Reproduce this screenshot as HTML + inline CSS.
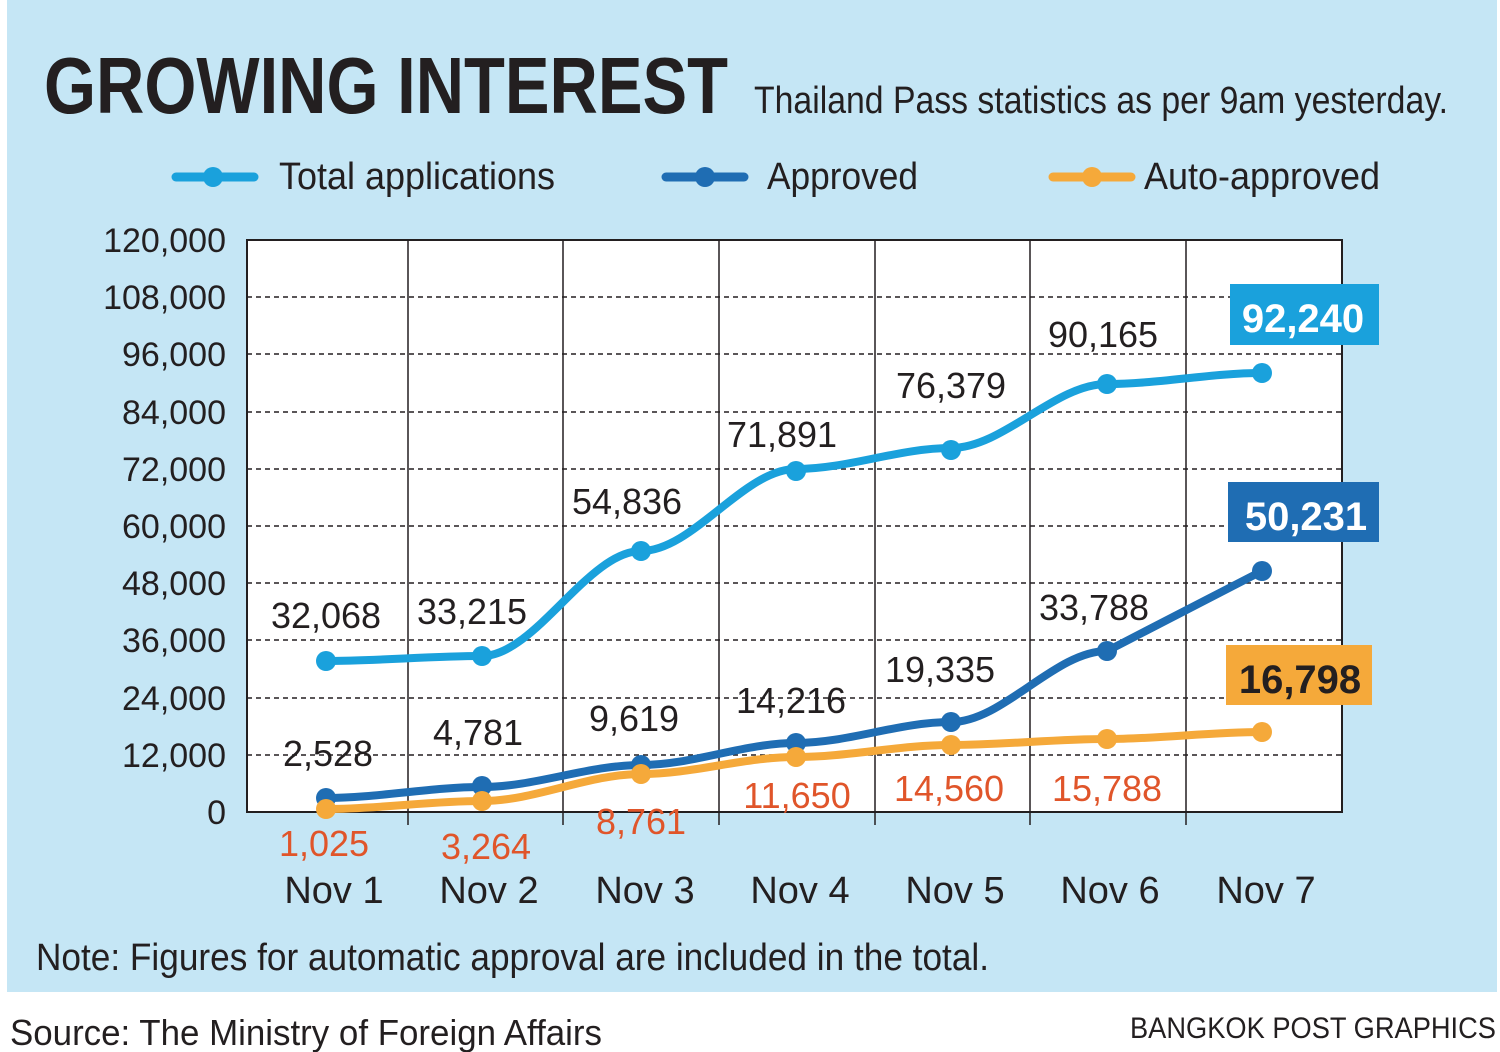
<!DOCTYPE html>
<html><head><meta charset="utf-8"><style>
html,body{margin:0;padding:0;background:#fff;}
svg{display:block;}
text{font-family:"Liberation Sans Narrow","Liberation Sans",sans-serif;}
</style></head><body>
<svg width="1500" height="1052" viewBox="0 0 1500 1052" xmlns="http://www.w3.org/2000/svg">
<rect x="0" y="0" width="1500" height="1052" fill="#fff"/>
<rect x="7" y="0" width="1490" height="992" fill="#c5e6f5"/>
<text x="44" y="113" font-size="80" font-weight="bold" fill="#231f20" textLength="684" lengthAdjust="spacingAndGlyphs">GROWING INTEREST</text>
<text x="754" y="113" font-size="38" fill="#231f20" textLength="694" lengthAdjust="spacingAndGlyphs">Thailand Pass statistics as per 9am yesterday.</text>
<!-- legend -->
<line x1="176" y1="177" x2="254" y2="177" stroke="#1aa1dc" stroke-width="9" stroke-linecap="round"/><circle cx="213" cy="177" r="10" fill="#1aa1dc"/>
<text x="279" y="189" font-size="38" fill="#231f20" textLength="276" lengthAdjust="spacingAndGlyphs">Total applications</text>
<line x1="666" y1="177" x2="744" y2="177" stroke="#1f6db3" stroke-width="9" stroke-linecap="round"/><circle cx="705" cy="177" r="10" fill="#1f6db3"/>
<text x="767" y="189" font-size="38" fill="#231f20" textLength="151" lengthAdjust="spacingAndGlyphs">Approved</text>
<line x1="1053" y1="177" x2="1131" y2="177" stroke="#f5a93a" stroke-width="9" stroke-linecap="round"/><circle cx="1092" cy="177" r="10" fill="#f5a93a"/>
<text x="1144" y="189" font-size="38" fill="#231f20" textLength="236" lengthAdjust="spacingAndGlyphs">Auto-approved</text>
<!-- plot -->
<rect x="247" y="240" width="1095" height="572" fill="#fff" stroke="#231f20" stroke-width="2"/>
<g stroke="#231f20" stroke-width="1.5" stroke-dasharray="5,4">
<line x1="247" y1="297" x2="1342" y2="297"/><line x1="247" y1="354" x2="1342" y2="354"/><line x1="247" y1="412" x2="1342" y2="412"/><line x1="247" y1="469" x2="1342" y2="469"/><line x1="247" y1="526" x2="1342" y2="526"/><line x1="247" y1="583" x2="1342" y2="583"/><line x1="247" y1="640" x2="1342" y2="640"/><line x1="247" y1="698" x2="1342" y2="698"/><line x1="247" y1="755" x2="1342" y2="755"/>
</g>
<g stroke="#231f20" stroke-width="1.5">
<line x1="408" y1="240" x2="408" y2="825"/><line x1="563" y1="240" x2="563" y2="825"/><line x1="719" y1="240" x2="719" y2="825"/><line x1="875" y1="240" x2="875" y2="825"/><line x1="1030" y1="240" x2="1030" y2="825"/><line x1="1186" y1="240" x2="1186" y2="825"/>
</g>
<g font-size="34" fill="#231f20" text-anchor="end">
<text x="226" y="252">120,000</text><text x="226" y="309">108,000</text><text x="226" y="366">96,000</text><text x="226" y="424">84,000</text><text x="226" y="481">72,000</text><text x="226" y="538">60,000</text><text x="226" y="595">48,000</text><text x="226" y="652">36,000</text><text x="226" y="710">24,000</text><text x="226" y="767">12,000</text><text x="226" y="824">0</text>
</g>
<!-- series -->
<g fill="none" stroke-width="8" stroke-linecap="round">
<path stroke="#1aa1dc" d="M326,661 C378,661 430,656 482,656 C535,656 588,551 641,551 C693,551 744,469 796,469 C848,469 899,448 951,448 C1003,448 1055,384 1107,384 C1159,384 1210,373 1262,373"/>
<path stroke="#1f6db3" d="M326,798 C378,798 430,787 482,787 C535,787 588,765 641,765 C693,765 744,743 796,743 C848,743 899,722 951,722 C1003,722 1055,651 1107,651 L1262,571"/>
<path stroke="#f5a93a" d="M326,809 C378,809 430,801 482,801 C535,801 588,774 641,774 C693,774 744,757 796,757 C848,757 899,745 951,745 C1003,745 1055,739 1107,739 C1159,739 1210,732 1262,732"/>
</g>
<g fill="#1aa1dc"><circle cx="326" cy="661" r="10"/><circle cx="482" cy="656" r="10"/><circle cx="641" cy="551" r="10"/><circle cx="796" cy="471" r="10"/><circle cx="951" cy="450" r="10"/><circle cx="1107" cy="384" r="10"/><circle cx="1262" cy="373" r="10"/></g>
<g fill="#1f6db3"><circle cx="326" cy="798" r="10"/><circle cx="482" cy="786" r="10"/><circle cx="641" cy="765" r="10"/><circle cx="796" cy="743" r="10"/><circle cx="951" cy="722" r="10"/><circle cx="1107" cy="651" r="10"/><circle cx="1262" cy="571" r="10"/></g>
<g fill="#f5a93a"><circle cx="326" cy="809" r="10"/><circle cx="482" cy="801" r="10"/><circle cx="641" cy="774" r="10"/><circle cx="796" cy="757" r="10"/><circle cx="951" cy="745" r="10"/><circle cx="1107" cy="739" r="10"/><circle cx="1262" cy="732" r="10"/></g>
<!-- labels -->
<g font-size="36" fill="#231f20" text-anchor="middle">
<text x="326" y="628">32,068</text><text x="472" y="624">33,215</text><text x="627" y="514">54,836</text><text x="782" y="447">71,891</text><text x="951" y="398">76,379</text><text x="1103" y="347">90,165</text>
<text x="328" y="766">2,528</text><text x="478" y="745">4,781</text><text x="634" y="731">9,619</text><text x="791" y="713">14,216</text><text x="940" y="682">19,335</text><text x="1094" y="620">33,788</text>
</g>
<g font-size="36" fill="#e0552a" text-anchor="middle">
<text x="324" y="856">1,025</text><text x="486" y="859">3,264</text><text x="641" y="834">8,761</text><text x="797" y="808">11,650</text><text x="949" y="801">14,560</text><text x="1107" y="801">15,788</text>
</g>
<rect x="1230" y="284" width="149" height="61" fill="#1aa1dc"/>
<text x="1303" y="332" font-size="40" font-weight="bold" fill="#fff" text-anchor="middle">92,240</text>
<rect x="1228" y="482" width="151" height="60" fill="#1f6db3"/>
<text x="1306" y="530" font-size="40" font-weight="bold" fill="#fff" text-anchor="middle">50,231</text>
<rect x="1226" y="645" width="146" height="60" fill="#f5a93a"/>
<text x="1300" y="693" font-size="40" font-weight="bold" fill="#231f20" text-anchor="middle">16,798</text>
<g font-size="38" fill="#231f20" text-anchor="middle">
<text x="334" y="903">Nov 1</text><text x="489" y="903">Nov 2</text><text x="645" y="903">Nov 3</text><text x="800" y="903">Nov 4</text><text x="955" y="903">Nov 5</text><text x="1110" y="903">Nov 6</text><text x="1266" y="903">Nov 7</text>
</g>
<text x="36" y="970" font-size="38" fill="#231f20" textLength="953" lengthAdjust="spacingAndGlyphs">Note: Figures for automatic approval are included in the total.</text>
<text x="10" y="1045" font-size="36" fill="#231f20" textLength="592" lengthAdjust="spacingAndGlyphs">Source: The Ministry of Foreign Affairs</text>
<text x="1130" y="1038" font-size="30" fill="#231f20" textLength="366" lengthAdjust="spacingAndGlyphs">BANGKOK POST GRAPHICS</text>
</svg>
</body></html>
